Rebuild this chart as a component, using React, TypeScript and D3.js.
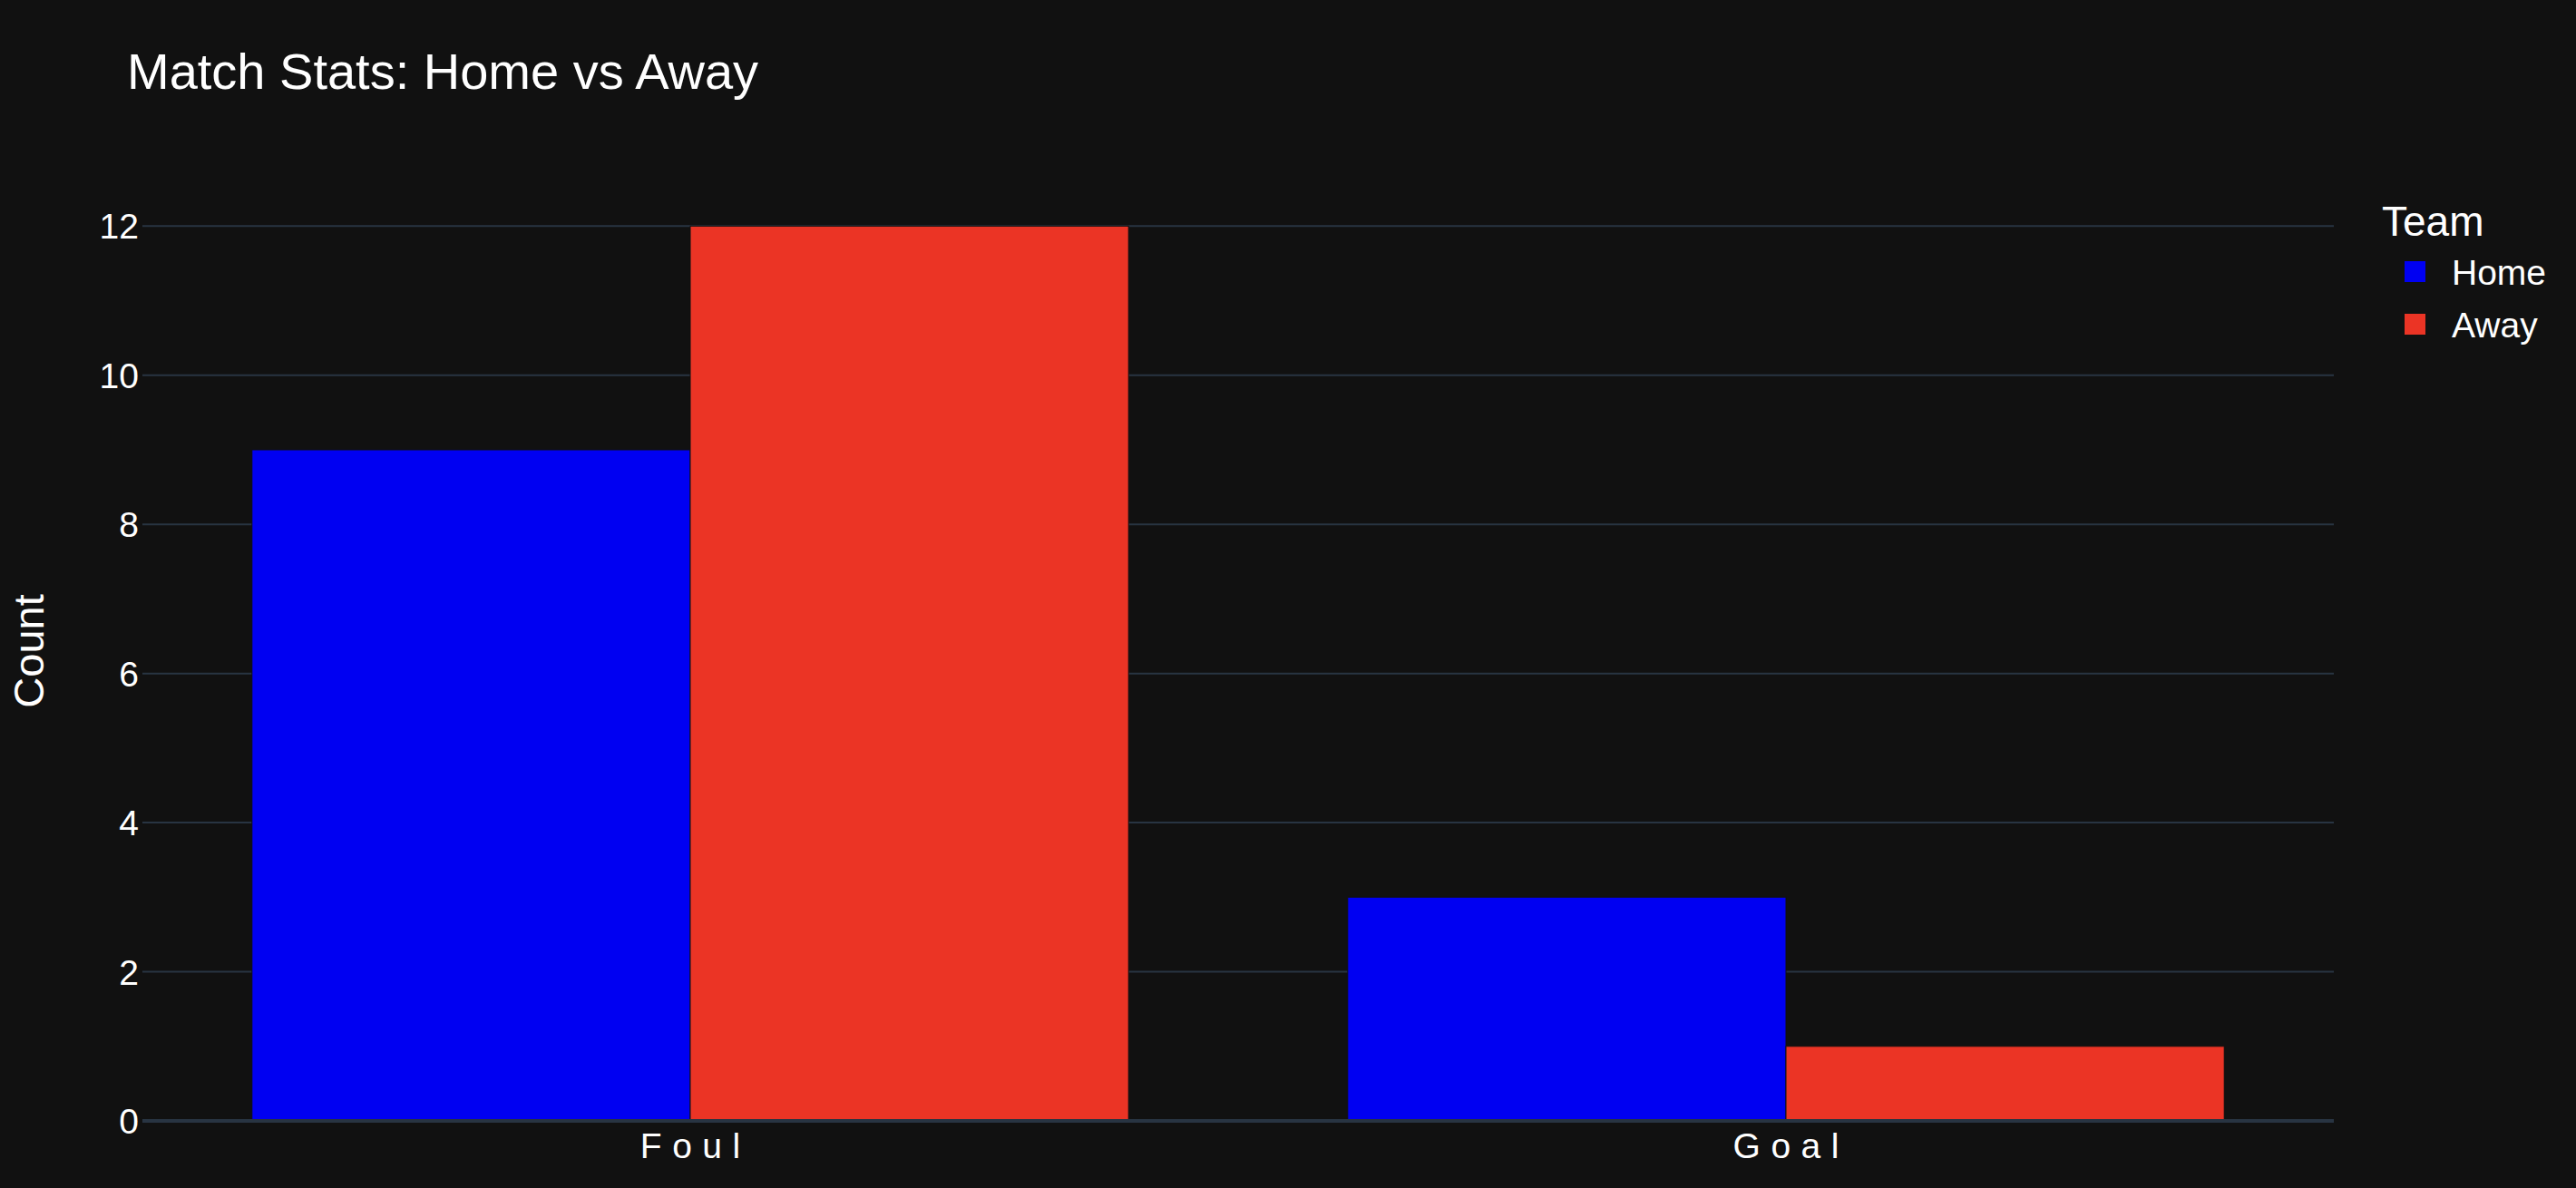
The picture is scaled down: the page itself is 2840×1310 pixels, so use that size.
import { useEffect, useRef } from "react";
import * as d3 from "d3";

const categories = ["Foul", "Goal"];
const teams = ["Home", "Away"];
const homeValues = [9, 3];
const awayValues = [12, 1];
const yTicks = [0, 2, 4, 6, 8, 10, 12];

const teamColors: Record<string, string> = { Home: "#0000f2", Away: "#eb3425" };

export default function App() {
  const svgRef = useRef<SVGSVGElement>(null);

  useEffect(() => {
    if (!svgRef.current) return;

    const width = 2840;
    const height = 1310;
    const margin = { left: 157, right: 267, top: 200, bottom: 74 };
    const font = "'Liberation Sans', Arial, Helvetica, sans-serif";
    const textColor = "#ffffff";

    d3.select(svgRef.current).selectAll("*").remove();

    const svg = d3
      .select(svgRef.current)
      .attr("width", width)
      .attr("height", height)
      .attr("viewBox", `0 0 ${width} ${height}`)
      .style("font-family", font);

    svg.append("rect").attr("width", width).attr("height", height).attr("fill", "#111111");

    const x = d3
      .scaleBand<string>()
      .domain(categories)
      .range([margin.left, width - margin.right])
      .paddingInner(0.2)
      .paddingOuter(0.1);

    const xSub = d3.scaleBand<string>().domain(teams).range([0, x.bandwidth()]);

    const y = d3
      .scaleLinear()
      .domain([0, 12.6])
      .range([height - margin.bottom, margin.top]);

    // Gridlines
    svg
      .append("g")
      .selectAll("line")
      .data(yTicks.filter((t) => t !== 0))
      .enter()
      .append("line")
      .attr("x1", margin.left)
      .attr("x2", width - margin.right)
      .attr("y1", (d) => y(d))
      .attr("y2", (d) => y(d))
      .attr("stroke", "#283442")
      .attr("stroke-width", 2);

    // Bars
    const rows = categories.map((c, i) => ({
      category: c,
      values: [
        { team: "Home", value: homeValues[i] },
        { team: "Away", value: awayValues[i] },
      ],
    }));

    svg
      .append("g")
      .selectAll("g")
      .data(rows)
      .enter()
      .append("g")
      .attr("transform", (d) => `translate(${x(d.category)},0)`)
      .selectAll("rect")
      .data((d) => d.values)
      .enter()
      .append("rect")
      .attr("x", (d) => xSub(d.team)!)
      .attr("width", xSub.bandwidth())
      .attr("y", (d) => y(d.value))
      .attr("height", (d) => y(0) - y(d.value))
      .attr("fill", (d) => teamColors[d.team])
      .attr("stroke", "#111111")
      .attr("stroke-width", 1);

    // Zero line
    svg
      .append("line")
      .attr("x1", margin.left)
      .attr("x2", width - margin.right)
      .attr("y1", y(0))
      .attr("y2", y(0))
      .attr("stroke", "#283442")
      .attr("stroke-width", 4);

    // Y tick labels
    svg
      .append("g")
      .selectAll("text")
      .data(yTicks)
      .enter()
      .append("text")
      .attr("x", margin.left - 4)
      .attr("y", (d) => y(d))
      .attr("dy", "0.36em")
      .attr("text-anchor", "end")
      .attr("fill", textColor)
      .attr("font-size", 39)
      .text((d) => d);

    // X tick labels
    const spacing = 11.5;
    svg
      .append("g")
      .selectAll("text")
      .data(categories)
      .enter()
      .append("text")
      .attr("x", (d) => x(d)! + x.bandwidth() / 2 + spacing / 2)
      .attr("y", 1277)
      .attr("text-anchor", "middle")
      .attr("fill", textColor)
      .attr("font-size", 39)
      .style("letter-spacing", `${spacing}px`)
      .text((d) => d);

    // Y axis title
    svg
      .append("text")
      .attr("transform", `translate(48,${(margin.top + y(0)) / 2}) rotate(-90)`)
      .attr("text-anchor", "middle")
      .attr("fill", textColor)
      .attr("font-size", 47)
      .text("Count");

    // Title
    svg
      .append("text")
      .attr("x", 140)
      .attr("y", 98)
      .attr("fill", textColor)
      .attr("font-size", 56)
      .text("Match Stats: Home vs Away");

    // Legend
    const legend = svg.append("g");
    legend
      .append("text")
      .attr("x", 2626)
      .attr("y", 260)
      .attr("fill", textColor)
      .attr("font-size", 46)
      .text("Team");

    const items = legend
      .selectAll("g.item")
      .data(teams)
      .enter()
      .append("g")
      .attr("class", "item")
      .attr("transform", (d, i) => `translate(0,${299.5 + i * 58})`);

    items
      .append("rect")
      .attr("x", 2651)
      .attr("y", -11.5)
      .attr("width", 23)
      .attr("height", 23)
      .attr("fill", (d) => teamColors[d]);

    items
      .append("text")
      .attr("x", 2703)
      .attr("y", 0)
      .attr("dy", "0.36em")
      .attr("fill", textColor)
      .attr("font-size", 39)
      .text((d) => d);
  }, []);

  return (
    <div style={{ position: "absolute", left: 0, top: 0 }}>
      <svg ref={svgRef} style={{ display: "block" }} />
    </div>
  );
}
